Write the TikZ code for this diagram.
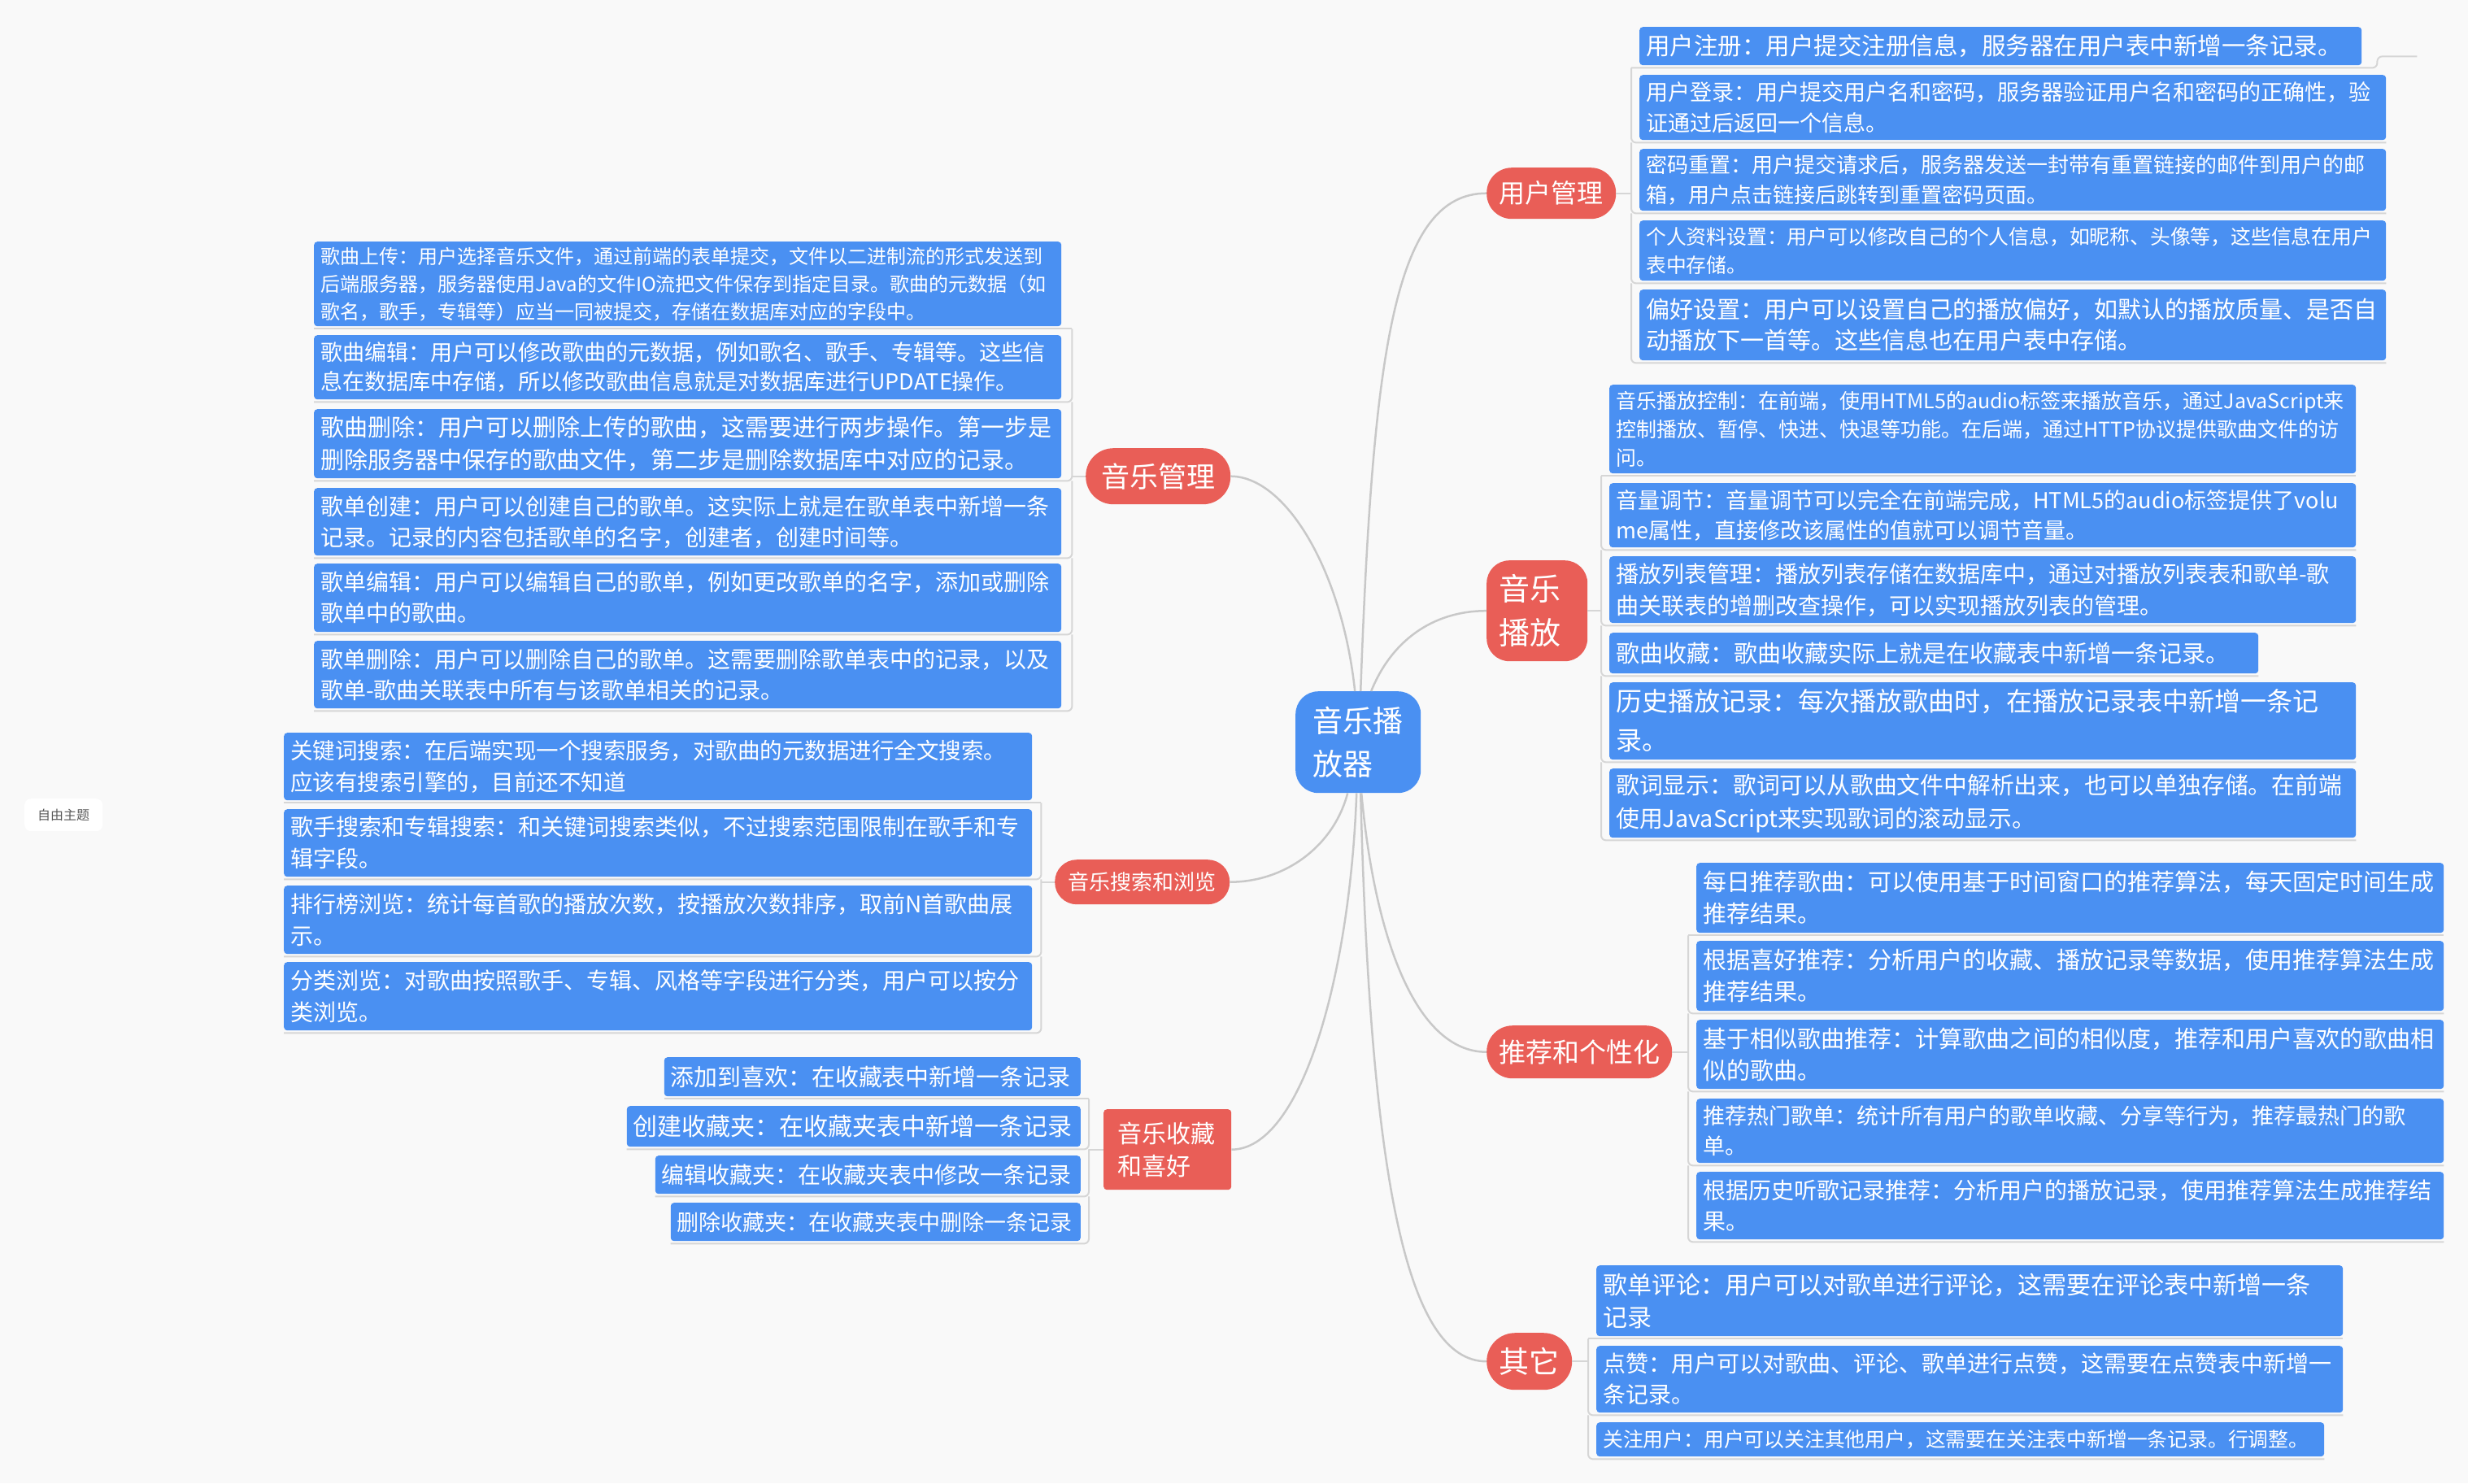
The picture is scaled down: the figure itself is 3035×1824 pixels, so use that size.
\documentclass[tikz,border=0pt]{standalone}
\usepackage{fontspec}
\setmainfont{Noto Sans CJK SC}
\definecolor{leafblue}{RGB}{74,144,242}
\definecolor{topicred}{RGB}{233,94,87}
\definecolor{linegray}{RGB}{200,200,200}
\definecolor{bracketgray}{RGB}{214,214,214}
\definecolor{bggray}{RGB}{249,249,249}
\definecolor{freegray}{RGB}{90,90,90}
\newcommand{\fsz}[2]{\fontsize{#1}{#2}\selectfont}
\exhyphenpenalty=10000

\begin{document}
\begin{tikzpicture}[x=1pt, y=-1pt,
  leaf/.style={fill=leafblue, text=white, rounded corners=4pt, anchor=north west, inner xsep=8pt, inner ysep=0pt, align=left},
  leafr/.style={leaf, anchor=north east},
  topic/.style={fill=topicred, text=white, anchor=north west, inner sep=0pt, align=left},
  branch/.style={draw=linegray, line width=2.5pt},
  bracket/.style={draw=bracketgray, line width=2pt, rounded corners=6pt}]
\useasboundingbox (0,0) rectangle (3035,1824);
\fill[bggray] (0,0) rectangle (3035,1824);

% centre and main topics
\node[fill=leafblue, text=white, anchor=north west, rounded corners=28pt, text width=112pt, inner xsep=21pt, inner ysep=0pt, minimum height=125pt, align=left, font=\fsz{37}{53}] (root) at (1593,850) {音乐播\\放器};
\node[fill=white, text=freegray, anchor=north west, rounded corners=8pt, minimum width=96pt, minimum height=40pt, inner sep=0pt, font=\fsz{16}{20}] (free) at (30,982) {自由主题};

\node[topic, rounded corners=31pt, minimum width=159pt, minimum height=63pt, font=\fsz{32}{38}] (user) at (1828,206) {用户管理};
\node[topic, rounded corners=28pt, text width=94pt, inner xsep=15pt, minimum height=124pt, font=\fsz{38}{54}] (play) at (1828,689) {音乐\\播放};
\node[topic, rounded corners=32pt, minimum width=228pt, minimum height=65pt, font=\fsz{33}{40}] (rec) at (1828,1261) {推荐和个性化};
\node[topic, rounded corners=35pt, minimum width=105pt, minimum height=70pt, font=\fsz{37}{44}] (other) at (1828,1639) {其它};
\node[topic, rounded corners=34pt, minimum width=178pt, minimum height=69pt, font=\fsz{35}{42}] (manage) at (1335,551) {音乐管理};
\node[topic, rounded corners=27pt, minimum width=215pt, minimum height=55pt, font=\fsz{26}{32}] (search) at (1297,1057) {音乐搜索和浏览};
\node[topic, rounded corners=4pt, text width=123pt, inner xsep=17pt, minimum height=99pt, font=\fsz{30}{40}] (fav) at (1357,1364) {音乐收藏\\和喜好};

% user
\node[leaf, text width=872pt, minimum height=47pt, font=\fsz{29.5}{38}] (user1) at (2016,33) {用户注册：用户提交注册信息，服务器在用户表中新增一条记录。};
\node[leaf, text width=902pt, minimum height=80pt, font=\fsz{27}{38}] (user2) at (2016,92) {用户登录：用户提交用户名和密码，服务器验证用户名和密码的正确性，验\\证通过后返回一个信息。};
\node[leaf, text width=902pt, minimum height=76pt, font=\fsz{26}{37}] (user3) at (2016,183) {密码重置：用户提交请求后，服务器发送一封带有重置链接的邮件到用户的邮\\箱，用户点击链接后跳转到重置密码页面。};
\node[leaf, text width=902pt, minimum height=74pt, font=\fsz{24.8}{35}] (user4) at (2016,271) {个人资料设置：用户可以修改自己的个人信息，如昵称、头像等，这些信息在用户\\表中存储。};
\node[leaf, text width=902pt, minimum height=87pt, font=\fsz{29}{38}] (user5) at (2016,356) {偏好设置：用户可以设置自己的播放偏好，如默认的播放质量、是否自\\动播放下一首等。这些信息也在用户表中存储。};

% play
\node[leaf, text width=902pt, minimum height=109pt, font=\fsz{25}{35}] (play1) at (1979,473) {音乐播放控制：在前端，使用HTML5的audio标签来播放音乐，通过JavaScript来\\控制播放、暂停、快进、快退等功能。在后端，通过HTTP协议提供歌曲文件的访\\问。};
\node[leaf, text width=902pt, minimum height=79pt, font=\fsz{27}{37}] (play2) at (1979,594) {音量调节：音量调节可以完全在前端完成，HTML5的audio标签提供了volu\\me属性，直接修改该属性的值就可以调节音量。};
\node[leaf, text width=902pt, minimum height=82pt, font=\fsz{28}{39}] (play3) at (1979,684) {播放列表管理：播放列表存储在数据库中，通过对播放列表表和歌单-歌\\曲关联表的增删改查操作，可以实现播放列表的管理。};
\node[leaf, text width=782pt, minimum height=50pt, font=\fsz{29}{38}] (play4) at (1979,778) {歌曲收藏：歌曲收藏实际上就是在收藏表中新增一条记录。};
\node[leaf, text width=902pt, minimum height=95pt, font=\fsz{32}{48}] (play5) at (1979,839) {历史播放记录：每次播放歌曲时，在播放记录表中新增一条记\\录。};
\node[leaf, text width=902pt, minimum height=85pt, font=\fsz{28.8}{41}] (play6) at (1979,945) {歌词显示：歌词可以从歌曲文件中解析出来，也可以单独存储。在前端\\使用JavaScript来实现歌词的滚动显示。};

% rec
\node[leaf, text width=903pt, minimum height=86pt, font=\fsz{29}{39}] (rec1) at (2086,1061) {每日推荐歌曲：可以使用基于时间窗口的推荐算法，每天固定时间生成\\推荐结果。};
\node[leaf, text width=903pt, minimum height=86pt, font=\fsz{29}{39}] (rec2) at (2086,1157) {根据喜好推荐：分析用户的收藏、播放记录等数据，使用推荐算法生成\\推荐结果。};
\node[leaf, text width=903pt, minimum height=85pt, font=\fsz{29}{39}] (rec3) at (2086,1254) {基于相似歌曲推荐：计算歌曲之间的相似度，推荐和用户喜欢的歌曲相\\似的歌曲。};
\node[leaf, text width=903pt, minimum height=79pt, font=\fsz{27}{37}] (rec4) at (2086,1351) {推荐热门歌单：统计所有用户的歌单收藏、分享等行为，推荐最热门的歌\\单。};
\node[leaf, text width=903pt, minimum height=83pt, font=\fsz{28}{38}] (rec5) at (2086,1441) {根据历史听歌记录推荐：分析用户的播放记录，使用推荐算法生成推荐结\\果。};

% other
\node[leaf, text width=902pt, minimum height=87pt, font=\fsz{30}{40}] (other1) at (1963,1556) {歌单评论：用户可以对歌单进行评论，这需要在评论表中新增一条\\记录};
\node[leaf, text width=902pt, minimum height=82pt, font=\fsz{28}{38}] (other2) at (1963,1655) {点赞：用户可以对歌曲、评论、歌单进行点赞，这需要在点赞表中新增一\\条记录。};
\node[leaf, text width=879pt, minimum height=42pt, font=\fsz{24.8}{30}] (other3) at (1963,1749) {关注用户：用户可以关注其他用户，这需要在关注表中新增一条记录。行调整。};

% manage
\node[leaf, text width=903pt, minimum height=104pt, font=\fsz{24}{34}] (manage1) at (386,297) {歌曲上传：用户选择音乐文件，通过前端的表单提交，文件以二进制流的形式发送到\\后端服务器，服务器使用Java的文件IO流把文件保存到指定目录。歌曲的元数据（如\\歌名，歌手，专辑等）应当一同被提交，存储在数据库对应的字段中。};
\node[leaf, text width=903pt, minimum height=79pt, font=\fsz{27}{36}] (manage2) at (386,412) {歌曲编辑：用户可以修改歌曲的元数据，例如歌名、歌手、专辑等。这些信\\息在数据库中存储，所以修改歌曲信息就是对数据库进行UPDATE操作。};
\node[leaf, text width=903pt, minimum height=85pt, font=\fsz{29}{40}] (manage3) at (386,503) {歌曲删除：用户可以删除上传的歌曲，这需要进行两步操作。第一步是\\删除服务器中保存的歌曲文件，第二步是删除数据库中对应的记录。};
\node[leaf, text width=903pt, minimum height=83pt, font=\fsz{28}{38}] (manage4) at (386,600) {歌单创建：用户可以创建自己的歌单。这实际上就是在歌单表中新增一条\\记录。记录的内容包括歌单的名字，创建者，创建时间等。};
\node[leaf, text width=903pt, minimum height=84pt, font=\fsz{28}{38}] (manage5) at (386,693) {歌单编辑：用户可以编辑自己的歌单，例如更改歌单的名字，添加或删除\\歌单中的歌曲。};
\node[leaf, text width=903pt, minimum height=83pt, font=\fsz{28}{38}] (manage6) at (386,788) {歌单删除：用户可以删除自己的歌单。这需要删除歌单表中的记录，以及\\歌单-歌曲关联表中所有与该歌单相关的记录。};

% search
\node[leaf, text width=904pt, minimum height=83pt, font=\fsz{27.5}{39}] (search1) at (349,901) {关键词搜索：在后端实现一个搜索服务，对歌曲的元数据进行全文搜索。\\应该有搜索引擎的，目前还不知道};
\node[leaf, text width=904pt, minimum height=83pt, font=\fsz{28}{39}] (search2) at (349,995) {歌手搜索和专辑搜索：和关键词搜索类似，不过搜索范围限制在歌手和专\\辑字段。};
\node[leaf, text width=904pt, minimum height=84pt, font=\fsz{28}{39}] (search3) at (349,1089) {排行榜浏览：统计每首歌的播放次数，按播放次数排序，取前N首歌曲展\\示。};
\node[leaf, text width=904pt, minimum height=84pt, font=\fsz{28}{39}] (search4) at (349,1183) {分类浏览：对歌曲按照歌手、专辑、风格等字段进行分类，用户可以按分\\类浏览。};

% fav
\node[leafr, text width=496pt, minimum height=48pt, font=\fsz{28.9}{36}] (fav1) at (1329,1300) {添加到喜欢：在收藏表中新增一条记录};
\node[leafr, text width=542pt, minimum height=50pt, font=\fsz{30}{36}] (fav2) at (1329,1360) {创建收藏夹：在收藏夹表中新增一条记录};
\node[leafr, text width=507pt, minimum height=47pt, font=\fsz{28}{36}] (fav3) at (1329,1421) {编辑收藏夹：在收藏夹表中修改一条记录};
\node[leafr, text width=488pt, minimum height=47pt, font=\fsz{27}{36}] (fav4) at (1329,1479) {删除收藏夹：在收藏夹表中删除一条记录};

% curves from the centre
\draw[branch] ([xshift=3pt]root.north) .. controls +(15,-420) and +(-113,0) .. (user.west);
\draw[branch] ([xshift=16pt]root.north) .. controls +(24,-60) and +(-68,0) .. (play.west);
\draw[branch] ([xshift=-4pt]root.north) .. controls +(-16,-150) and +(67,0) .. (manage.east);
\draw[branch] ([xshift=-13pt]root.south) .. controls +(-17,65) and +(68,0) .. (search.east);
\draw[branch] ([xshift=-2pt]root.south) .. controls +(-8,225) and +(86,0) .. (fav.east);
\draw[branch] ([xshift=4pt]root.south) .. controls +(16,175) and +(-88,0) .. (rec.west);
\draw[branch] ([xshift=3pt]root.south) .. controls +(12,475) and +(-98,0) .. (other.west);

% brackets, right side
\draw[bracket] (user.east) -- ([xshift=-10pt]user1.west |- user.east);
\draw[bracket] ([xshift=-10pt,yshift=-3pt]user1.south west) -- ([yshift=-3pt]user1.south east) -- ++(19,0) -- ++(0,-14) -- ++(49,0);
\draw[bracket] ([xshift=-10pt,yshift=-3pt]user1.south west) |- ([yshift=-3pt]user2.south east);
\draw[bracket] ([xshift=-10pt,yshift=-3pt]user2.south west) |- ([yshift=-3pt]user3.south east);
\draw[bracket] ([xshift=-10pt,yshift=-3pt]user3.south west) |- ([yshift=-3pt]user4.south east);
\draw[bracket] ([xshift=-10pt,yshift=-3pt]user4.south west) |- ([yshift=-3pt]user5.south east);

\draw[bracket] (play.east) -- ([xshift=-10pt]play1.west |- play.east);
\draw[bracket] ([xshift=-10pt,yshift=-3pt]play1.south west) -- ([yshift=-3pt]play1.south east);
\draw[bracket] ([xshift=-10pt,yshift=-3pt]play1.south west) |- ([yshift=-3pt]play2.south east);
\draw[bracket] ([xshift=-10pt,yshift=-3pt]play2.south west) |- ([yshift=-3pt]play3.south east);
\draw[bracket] ([xshift=-10pt,yshift=-3pt]play3.south west) |- ([yshift=-3pt]play4.south east);
\draw[bracket] ([xshift=-10pt,yshift=-3pt]play4.south west) |- ([yshift=-3pt]play5.south east);
\draw[bracket] ([xshift=-10pt,yshift=-3pt]play5.south west) |- ([yshift=-3pt]play6.south east);

\draw[bracket] (rec.east) -- ([xshift=-10pt]rec1.west |- rec.east);
\draw[bracket] ([xshift=-10pt,yshift=-3pt]rec1.south west) -- ([yshift=-3pt]rec1.south east);
\draw[bracket] ([xshift=-10pt,yshift=-3pt]rec1.south west) |- ([yshift=-3pt]rec2.south east);
\draw[bracket] ([xshift=-10pt,yshift=-3pt]rec2.south west) |- ([yshift=-3pt]rec3.south east);
\draw[bracket] ([xshift=-10pt,yshift=-3pt]rec3.south west) |- ([yshift=-3pt]rec4.south east);
\draw[bracket] ([xshift=-10pt,yshift=-3pt]rec4.south west) |- ([yshift=-3pt]rec5.south east);

\draw[bracket] (other.east) -- ([xshift=-10pt]other1.west |- other.east);
\draw[bracket] ([xshift=-10pt,yshift=-3pt]other1.south west) -- ([yshift=-3pt]other1.south east);
\draw[bracket] ([xshift=-10pt,yshift=-3pt]other1.south west) |- ([yshift=-3pt]other2.south east);
\draw[bracket] ([xshift=-10pt,yshift=-3pt]other2.south west) |- ([yshift=-3pt]other3.south east);

% brackets, left side
\draw[bracket] (manage.west) -- ([xshift=13pt]manage1.east |- manage.west);
\draw[bracket] ([yshift=-3pt]manage1.south west) -- ([xshift=13pt,yshift=-3pt]manage1.south east);
\draw[bracket] ([xshift=13pt,yshift=-3pt]manage1.south east) |- ([yshift=-3pt]manage2.south west);
\draw[bracket] ([xshift=13pt,yshift=-3pt]manage2.south east) |- ([yshift=-3pt]manage3.south west);
\draw[bracket] ([xshift=13pt,yshift=-3pt]manage3.south east) |- ([yshift=-3pt]manage4.south west);
\draw[bracket] ([xshift=13pt,yshift=-3pt]manage4.south east) |- ([yshift=-3pt]manage5.south west);
\draw[bracket] ([xshift=13pt,yshift=-3pt]manage5.south east) |- ([yshift=-3pt]manage6.south west);

\draw[bracket] (search.west) -- ([xshift=11pt]search1.east |- search.west);
\draw[bracket] ([yshift=-3pt]search1.south west) -- ([xshift=11pt,yshift=-3pt]search1.south east);
\draw[bracket] ([xshift=11pt,yshift=-3pt]search1.south east) |- ([yshift=-3pt]search2.south west);
\draw[bracket] ([xshift=11pt,yshift=-3pt]search2.south east) |- ([yshift=-3pt]search3.south west);
\draw[bracket] ([xshift=11pt,yshift=-3pt]search3.south east) |- ([yshift=-3pt]search4.south west);

\draw[bracket] (fav.west) -- ([xshift=10pt]fav1.east |- fav.west);
\draw[bracket] ([yshift=-3pt]fav1.south west) -- ([xshift=10pt,yshift=-3pt]fav1.south east);
\draw[bracket] ([xshift=10pt,yshift=-3pt]fav1.south east) |- ([yshift=-3pt]fav2.south west);
\draw[bracket] ([xshift=10pt,yshift=-3pt]fav2.south east) |- ([yshift=-3pt]fav3.south west);
\draw[bracket] ([xshift=10pt,yshift=-3pt]fav3.south east) |- ([yshift=-3pt]fav4.south west);
\end{tikzpicture}
\end{document}
